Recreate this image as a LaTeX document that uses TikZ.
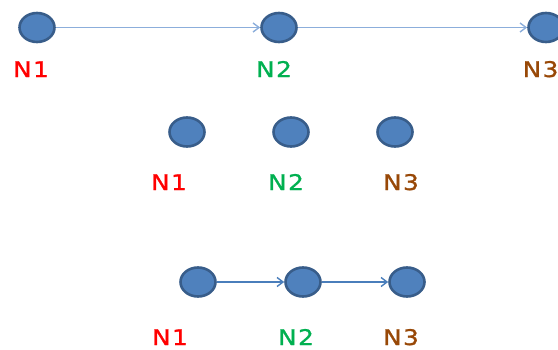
\documentclass[tikz,border=0pt]{standalone}
\usepackage{fontspec}
\setmainfont{DejaVu Sans}[FakeStretch=1.15,LetterSpace=7,FakeBold=1.2]
\usepackage{tikz}
\usepackage{xcolor}
\usetikzlibrary{shapes.geometric,arrows.meta}

\definecolor{nodefill}{HTML}{4F81BD}
\definecolor{nodeedge}{HTML}{385D8A}
\definecolor{paleline}{HTML}{8CAEDB}
\definecolor{linkline}{HTML}{4A7EBB}
\definecolor{redlbl}{HTML}{FF0000}
\definecolor{greenlbl}{HTML}{00B050}
\definecolor{brownlbl}{HTML}{984807}

\tikzstyle{vert} = [ellipse, draw=nodeedge, fill=nodefill, line width=2.6pt, minimum width=35pt, minimum height=29pt, inner sep=0pt]
\tikzstyle{lbl} = [draw=none, font=\fontsize{21.5}{21.5}\selectfont, inner sep=0pt, text depth=0pt, anchor=base]

\begin{document}
\begin{tikzpicture}[x=1pt,y=-1pt,>={Straight Barb[length=6pt,width=9pt]},line width=1.4pt]
  \useasboundingbox (0,0) rectangle (558,349);

  % top row
  \node[vert] (A1) at (37,27.5) {};
  \node[vert] (A2) at (279,27.5) {};
  \node[vert] (A3) at (546,27.5) {};
  \node[lbl,text=redlbl] (A1l) at (31,77) {N1};
  \node[lbl,text=greenlbl] (A2l) at (274,77) {N2};
  \node[lbl,text=brownlbl,anchor=base west] (A3l) at (522,77) {N3};

  \path[->,draw=paleline] (A1) edge (A2);
  \path[->,draw=paleline] (A2) edge (A3);

  % middle row
  \node[vert] (B1) at (187,132) {};
  \node[vert] (B2) at (291,132) {};
  \node[vert] (B3) at (395,132) {};
  \node[lbl,text=redlbl] (B1l) at (169,190) {N1};
  \node[lbl,text=greenlbl] (B2l) at (286,190) {N2};
  \node[lbl,text=brownlbl] (B3l) at (401,190) {N3};

  % bottom row
  \node[vert] (C1) at (198,282) {};
  \node[vert] (C2) at (303,282) {};
  \node[vert] (C3) at (407,282) {};
  \node[lbl,text=redlbl] (C1l) at (170,345) {N1};
  \node[lbl,text=greenlbl] (C2l) at (296,345) {N2};
  \node[lbl,text=brownlbl] (C3l) at (401,345) {N3};

  \path[->,draw=linkline] (C1) edge (C2);
  \path[->,draw=linkline] (C2) edge (C3);
\end{tikzpicture}
\end{document}
